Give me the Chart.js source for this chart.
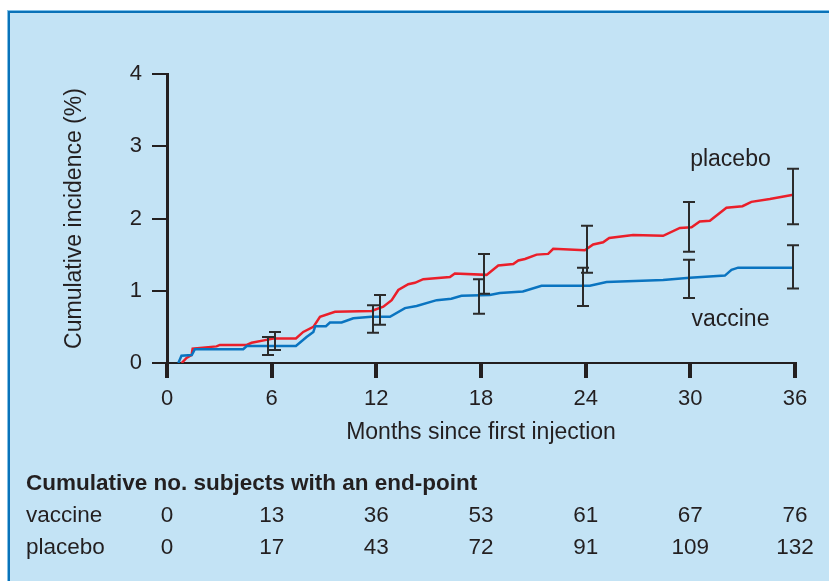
<!DOCTYPE html>
<html>
<head>
<meta charset="utf-8">
<script src="https://cdn.jsdelivr.net/npm/chart.js@4/dist/chart.umd.min.js"></script>
<style>
  html, body { margin: 0; padding: 0; background: #fff; }
  #wrap { position: relative; width: 829px; height: 581px; overflow: hidden; }
  #panel {
    position: absolute; left: 8px; top: 11px; right: -4px; bottom: -4px;
    background: #c3e3f5; border-left: 2px solid #0a72b8; border-top: 2px solid #0a72b8;
    box-shadow: -1px -1px 0 #7fc0e8;
  }
  #grafik { position: absolute; left: 0; top: 0; }
</style>
</head>
<body>
<div id="wrap">
  <div id="panel"></div>
  <canvas id="grafik" width="829" height="581"></canvas>
</div>
<script>
// curves (months, cumulative incidence %)
const vaccineMonths = [0.65, 0.83, 1.42, 1.6, 4.37, 4.57, 7.39, 8.0, 8.39, 8.5, 9.11, 9.34, 10.01, 10.68, 11.72, 12.78, 13.64, 14.31, 15.46, 16.3, 16.88, 18.5, 19.08, 20.4, 21.47, 24.24, 25.2, 28.44, 29.97, 31.98, 32.36, 32.74, 35.9];
const vaccineValues = [0, 0.1, 0.11, 0.19, 0.19, 0.235, 0.235, 0.36, 0.43, 0.51, 0.51, 0.56, 0.56, 0.62, 0.64, 0.64, 0.76, 0.79, 0.87, 0.89, 0.93, 0.94, 0.97, 0.99, 1.07, 1.07, 1.12, 1.15, 1.18, 1.21, 1.29, 1.32, 1.32];
const placeboMonths = [0.84, 1.12, 1.41, 1.47, 2.84, 3.03, 4.57, 4.85, 5.7, 6.09, 7.39, 7.81, 8.39, 8.77, 9.63, 11.73, 12.4, 12.88, 13.26, 13.83, 14.21, 14.69, 16.22, 16.5, 18.32, 18.99, 19.85, 20.14, 20.52, 21.19, 21.85, 22.14, 23.95, 24.43, 25.0, 25.35, 26.72, 28.44, 29.4, 30.07, 30.54, 31.12, 32.07, 32.99, 33.5, 34.56, 35.9];
const placeboValues = [0, 0.07, 0.11, 0.2, 0.23, 0.25, 0.25, 0.28, 0.32, 0.34, 0.34, 0.43, 0.5, 0.64, 0.71, 0.72, 0.78, 0.87, 1.01, 1.09, 1.11, 1.16, 1.19, 1.24, 1.22, 1.35, 1.37, 1.42, 1.44, 1.5, 1.51, 1.58, 1.56, 1.64, 1.67, 1.73, 1.77, 1.76, 1.87, 1.88, 1.96, 1.97, 2.15, 2.17, 2.23, 2.27, 2.33];

// error bars
const vaccineErrMonths = [5.8, 11.8, 17.9, 23.87, 29.93, 35.9];
const vaccineErrLow = [0.11, 0.42, 0.68, 0.79, 0.9, 1.03];
const vaccineErrHigh = [0.36, 0.8, 1.16, 1.32, 1.43, 1.63];
const placeboErrMonths = [6.19, 12.2, 18.2, 24.1, 29.93, 35.9];
const placeboErrLow = [0.18, 0.53, 0.96, 1.25, 1.54, 1.92];
const placeboErrHigh = [0.43, 0.94, 1.51, 1.9, 2.23, 2.69];

// table under the chart
const tableMonths = [0, 6, 12, 18, 24, 30, 36];
const vaccineCounts = [0, 13, 36, 53, 61, 67, 76];
const placeboCounts = [0, 17, 43, 72, 91, 109, 132];

const textColor = '#231f20';
const sansFont = '"Liberation Sans", Arial, sans-serif';

function toPoints(xs, ys) {
    return xs.map((x, i) => ({ x: x, y: ys[i] }));
}

const errorBarPlugin = {
    id: 'errorBars',
    afterDatasetsDraw(chart) {
        const ctx = chart.ctx;
        const xs = chart.scales.x, ys = chart.scales.y;
        const sets = [
            [vaccineErrMonths, vaccineErrLow, vaccineErrHigh],
            [placeboErrMonths, placeboErrLow, placeboErrHigh]
        ];
        ctx.save();
        ctx.strokeStyle = '#2b2b2b';
        ctx.lineWidth = 2;
        sets.forEach(s => {
            s[0].forEach((m, i) => {
                const px = Math.round(xs.getPixelForValue(m));
                const lo = ys.getPixelForValue(s[1][i]);
                const hi = ys.getPixelForValue(s[2][i]);
                ctx.beginPath();
                ctx.moveTo(px, lo); ctx.lineTo(px, hi);
                ctx.moveTo(px - 6, lo); ctx.lineTo(px + 6, lo);
                ctx.moveTo(px - 6, hi); ctx.lineTo(px + 6, hi);
                ctx.stroke();
            });
        });
        ctx.restore();
    },
    afterDraw(chart) {
        const ctx = chart.ctx;
        const xs = chart.scales.x, ys = chart.scales.y;
        ctx.save();
        ctx.fillStyle = textColor;
        // series labels
        ctx.font = '23px ' + sansFont;
        ctx.textAlign = 'center';
        ctx.textBaseline = 'middle';
        ctx.fillText('placebo', xs.getPixelForValue(32.3), ys.getPixelForValue(2.81));
        ctx.fillText('vaccine', xs.getPixelForValue(32.3), ys.getPixelForValue(0.6));

        // table
        ctx.textAlign = 'left';
        ctx.font = 'bold 22.5px ' + sansFont;
        ctx.fillText('Cumulative no. subjects with an end-point', 26, 484);
        ctx.font = '22.5px ' + sansFont;
        ctx.fillText('vaccine', 26, 516);
        ctx.fillText('placebo', 26, 548);
        ctx.textAlign = 'center';
        tableMonths.forEach((m, i) => {
            const px = xs.getPixelForValue(m);
            ctx.fillText(String(vaccineCounts[i]), px, 516);
            ctx.fillText(String(placeboCounts[i]), px, 548);
        });
        ctx.restore();
    }
};

const ctx = document.getElementById('grafik').getContext('2d');
new Chart(ctx, {
    type: 'line',
    data: {
        datasets: [
            {
                label: 'vaccine',
                data: toPoints(vaccineMonths, vaccineValues),
                borderColor: '#0a74c0',
                borderWidth: 2.5,
                pointRadius: 0,
                tension: 0
            },
            {
                label: 'placebo',
                data: toPoints(placeboMonths, placeboValues),
                borderColor: '#ea1f2a',
                borderWidth: 2.5,
                pointRadius: 0,
                tension: 0
            }
        ]
    },
    options: {
        responsive: false,
        animation: false,
        events: [],
        layout: { padding: { left: 61, right: 34, top: 74, bottom: 135 } },
        plugins: { legend: { display: false }, tooltip: { enabled: false } },
        scales: {
            x: {
                type: 'linear',
                min: 0, max: 36,
                afterFit: s => { s.height = 83; },
                ticks: { stepSize: 6, color: textColor, padding: 8, font: { family: sansFont, size: 22 } },
                grid: { drawOnChartArea: false, drawTicks: true, tickLength: 15, lineWidth: 4, color: '#231f20' },
                border: { display: true, color: '#231f20', width: 2 },
                title: { display: true, text: 'Months since first injection', color: textColor, padding: 0, font: { family: sansFont, size: 23 } }
            },
            y: {
                min: 0, max: 4,
                afterFit: s => { s.width = 106; },
                ticks: { stepSize: 1, color: textColor, padding: 10, font: { family: sansFont, size: 22 } },
                grid: { drawOnChartArea: false, drawTicks: true, tickLength: 15, lineWidth: 2, color: '#231f20' },
                border: { display: true, color: '#231f20', width: 3 },
                title: { display: true, text: 'Cumulative incidence (%)', color: textColor, padding: 0, font: { family: sansFont, size: 23 } }
            }
        }
    },
    plugins: [errorBarPlugin]
});
</script>
</body>
</html>
